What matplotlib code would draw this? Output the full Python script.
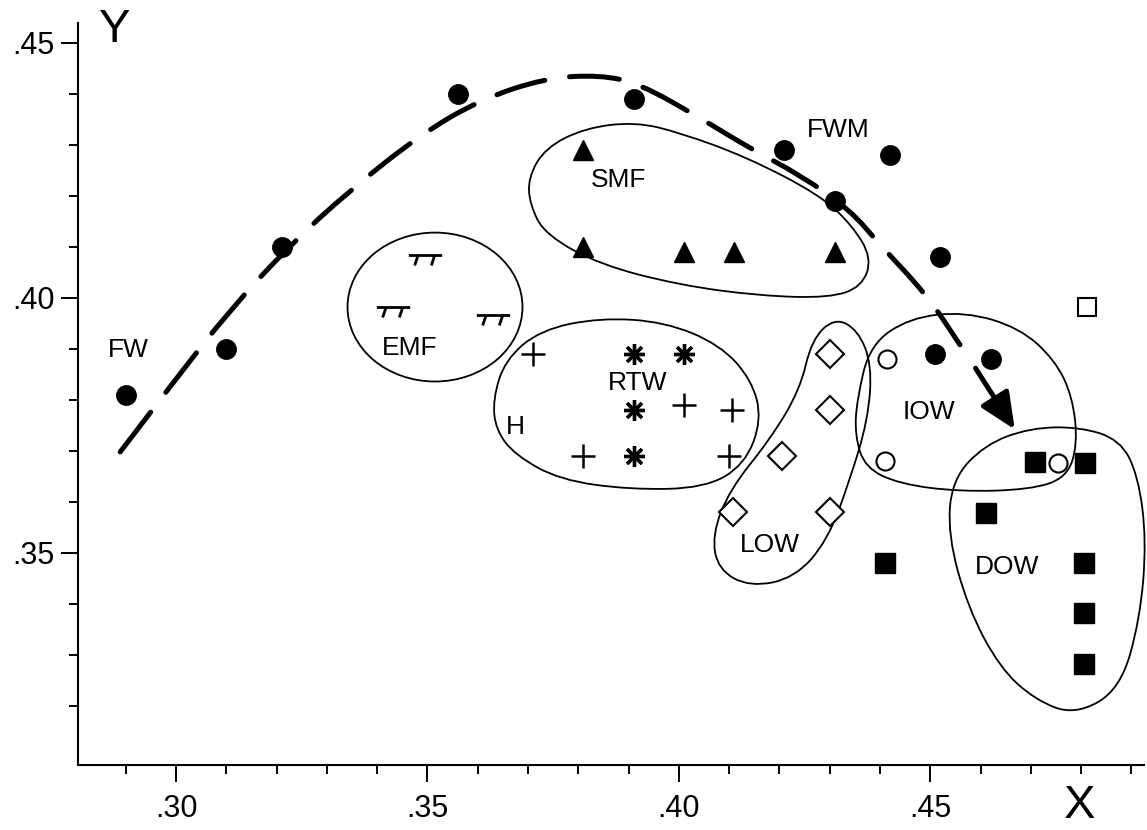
import matplotlib
matplotlib.use("Agg")
import matplotlib.pyplot as plt
import numpy as np
from matplotlib.path import Path
from matplotlib.patches import PathPatch, Ellipse
from matplotlib.ticker import FuncFormatter

plt.rcParams['font.family'] = ['Liberation Sans', 'DejaVu Sans']

# ---- data ----
fw_x = [0.290, 0.310, 0.321, 0.356, 0.391, 0.421, 0.442, 0.431, 0.452, 0.451, 0.462]
fw_y = [0.381, 0.390, 0.410, 0.440, 0.439, 0.429, 0.428, 0.419, 0.408, 0.389, 0.388]

smf_x = [0.381, 0.381, 0.401, 0.411, 0.431]
smf_y = [0.429, 0.410, 0.409, 0.409, 0.409]

emf_x = [0.3495, 0.3431, 0.3630]
emf_y = [0.4075, 0.3973, 0.3957]

rtw_plus_x = [0.371, 0.401, 0.4105, 0.381, 0.410]
rtw_plus_y = [0.389, 0.379, 0.378, 0.369, 0.369]
rtw_star_x = [0.391, 0.401, 0.391, 0.391]
rtw_star_y = [0.389, 0.389, 0.378, 0.369]

low_x = [0.430, 0.430, 0.4205, 0.4107, 0.430]
low_y = [0.389, 0.378, 0.369, 0.358, 0.358]

iow_x = [0.4414, 0.4410, 0.4754]
iow_y = [0.3880, 0.3680, 0.3676]

dow_x = [0.4708, 0.4807, 0.4610, 0.4805, 0.4805, 0.4805, 0.4410]
dow_y = [0.3678, 0.3676, 0.3578, 0.3480, 0.3382, 0.3282, 0.3480]

sq_open_x = [0.4811]
sq_open_y = [0.3982]

# trend curve (dashed) and arrow
curve_x = [.2889, .2998, .3107, .3227, .3347, .3486, .3604, .3734, .3843, .3922,
           .4042, .4147, .4241, .4340, .4400, .4493, .4559]
curve_y = [.3698, .3839, .3976, .4104, .4212, .4320, .4388, .4431, .4437, .4420,
           .4353, .4290, .4241, .4173, .4104, .4006, .3908]
arrow_from = (0.4590, 0.3862)
arrow_to = (0.4668, 0.3742)

# group outlines
smf_outline = [(.3700, .4235), (.3734, .4294), (.3813, .4333), (.3913, .4345), (.4002, .4324),
               (.4135, .4276), (.4280, .4202), (.4344, .4143), (.4384, .4078), (.4364, .4022),
               (.4300, .4000), (.4161, .4004), (.4002, .4025), (.3843, .4065), (.3734, .4124),
               (.3704, .4182)]
rtw_outline = [(.3630, .3800), (.3654, .3878), (.3724, .3937), (.3843, .3961), (.3972, .3953),
               (.4082, .3908), (.4145, .3839), (.4165, .3761), (.4131, .3673), (.4052, .3627),
               (.3903, .3624), (.3763, .3643), (.3674, .3692), (.3636, .3741)]
low_outline = [(.4310, .3961), (.4356, .3937), (.4384, .3869), (.4376, .3761), (.4340, .3643),
               (.4296, .3525), (.4231, .3451), (.4141, .3433), (.4078, .3467), (.4066, .3535),
               (.4101, .3624), (.4181, .3722), (.4241, .3820), (.4264, .3918)]
iow_outline = [(.4354, .3800), (.4380, .3908), (.4459, .3961), (.4569, .3973), (.4678, .3941),
               (.4748, .3878), (.4783, .3806), (.4793, .3712), (.4771, .3647), (.4698, .3624),
               (.4559, .3620), (.4439, .3635), (.4370, .3667), (.4350, .3731)]
dow_outline = [(.4797, .3747), (.4877, .3722), (.4913, .3653), (.4930, .3525), (.4917, .3369),
               (.4877, .3231), (.4787, .3182), (.4708, .3212), (.4638, .3275), (.4575, .3392),
               (.4535, .3535), (.4543, .3643), (.4608, .3712), (.4698, .3745)]
emf_center = (0.3515, 0.3982)
emf_size = (0.0348, 0.0292)

labels = ['FW', 'EMF', 'SMF', 'FWM', 'RTW', 'H', 'LOW', 'IOW', 'DOW']
label_x = [.2905, .3465, .3879, .4316, .3917, .3674, .4181, .4497, .4652]
label_y = [.3898, .3902, .4231, .4329, .3833, .3747, .3516, .3776, .3473]


def closed_path(pts):
    pts = np.asarray(pts)
    n = len(pts)
    mids = (pts + np.roll(pts, -1, axis=0)) / 2
    verts = [mids[-1]]
    codes = [Path.MOVETO]
    for i in range(n):
        verts += [pts[i], mids[i]]
        codes += [Path.CURVE3, Path.CURVE3]
    return Path(verts, codes)


def open_path(xs, ys):
    pts = np.column_stack([xs, ys])
    verts = [pts[0]]
    codes = [Path.MOVETO]
    for i in range(1, len(pts) - 1):
        verts += [pts[i], (pts[i] + pts[i + 1]) / 2]
        codes += [Path.CURVE3, Path.CURVE3]
    verts.append(pts[-1])
    codes.append(Path.LINETO)
    return Path(verts, codes)


# EMF symbol: bar with two slanted legs
emf_marker = Path([(-1, 0.3), (1, 0.3), (-0.45, 0.3), (-0.65, -0.3), (0.55, 0.3), (0.35, -0.3)],
                  [Path.MOVETO, Path.LINETO, Path.MOVETO, Path.LINETO, Path.MOVETO, Path.LINETO])

W, H = 1147, 830
fig = plt.figure(figsize=(W / 100, H / 100), dpi=100)
ax = fig.add_axes([78 / W, 1 - 765 / H, (1144 - 78) / W, (765 - 23) / H])
ax.set_xlim(0.2805, 0.4925)
ax.set_ylim(0.3084, 0.4539)

for s in ['top', 'right']:
    ax.spines[s].set_visible(False)
for s in ['left', 'bottom']:
    ax.spines[s].set_linewidth(1.5)

ax.set_xticks([0.30, 0.35, 0.40, 0.45])
ax.set_xticks(np.round(np.arange(0.29, 0.495, 0.01), 2), minor=True)
ax.set_yticks([0.35, 0.40, 0.45])
ax.set_yticks(np.round(np.arange(0.32, 0.445, 0.01), 2), minor=True)
fmt = FuncFormatter(lambda v, p: f"{v:.2f}".lstrip('0'))
ax.xaxis.set_major_formatter(fmt)
ax.yaxis.set_major_formatter(fmt)
ax.tick_params(which='major', direction='out', length=12, width=1.4, labelsize=22)
ax.tick_params(which='minor', direction='out', length=6.5, width=1.4)
ax.tick_params(axis='x', which='major', pad=9)
ax.tick_params(axis='y', which='major', pad=5)

# outlines
for pts in [smf_outline, rtw_outline, low_outline, iow_outline, dow_outline]:
    ax.add_patch(PathPatch(closed_path(pts), fill=False, lw=1.3, color='black', clip_on=False))
ax.add_patch(Ellipse(emf_center, emf_size[0], emf_size[1], fill=False, lw=1.3, color='black'))

# dashed trend line and arrow
ax.add_patch(PathPatch(open_path(curve_x, curve_y), fill=False, lw=3.6, color='black',
                       linestyle=(0, (10, 5)), capstyle='round'))
ax.annotate('', xy=arrow_to, xytext=arrow_from,
            arrowprops=dict(arrowstyle='-|>,head_length=1.0,head_width=0.45',
                            color='black', lw=3.6, mutation_scale=22, shrinkA=0, shrinkB=0))

# points
ax.plot(fw_x, fw_y, 'o', color='black', ms=14, ls='none')
ax.plot(smf_x, smf_y, '^', color='black', ms=15, ls='none')
ax.plot(emf_x, emf_y, marker=emf_marker, color='black', ms=24, mew=2, ls='none')
ax.plot(rtw_plus_x, rtw_plus_y, '+', color='black', ms=17, mew=1.8, ls='none')
ax.plot(rtw_star_x, rtw_star_y, marker=(8, 2, 0), color='black', ms=15, mew=2.4, ls='none')
ax.plot(low_x, low_y, 'D', mfc='white', mec='black', ms=14, mew=1.5, ls='none')
ax.plot(iow_x, iow_y, 'o', mfc='white', mec='black', ms=13, mew=1.5, ls='none')
ax.plot(dow_x, dow_y, 's', color='black', ms=14, ls='none')
ax.plot(sq_open_x, sq_open_y, 's', mfc='white', mec='black', ms=13, mew=1.5, ls='none')

for t, x, y in zip(labels, label_x, label_y):
    ax.text(x, y, t, fontsize=19, ha='center', va='center')

ax.text(0.2879, 0.4525, 'Y', fontsize=34, ha='center', va='center', clip_on=False)
ax.text(0.4797, 0.3003, 'X', fontsize=34, ha='center', va='center', clip_on=False)

fig.savefig('out.png', dpi=100)
